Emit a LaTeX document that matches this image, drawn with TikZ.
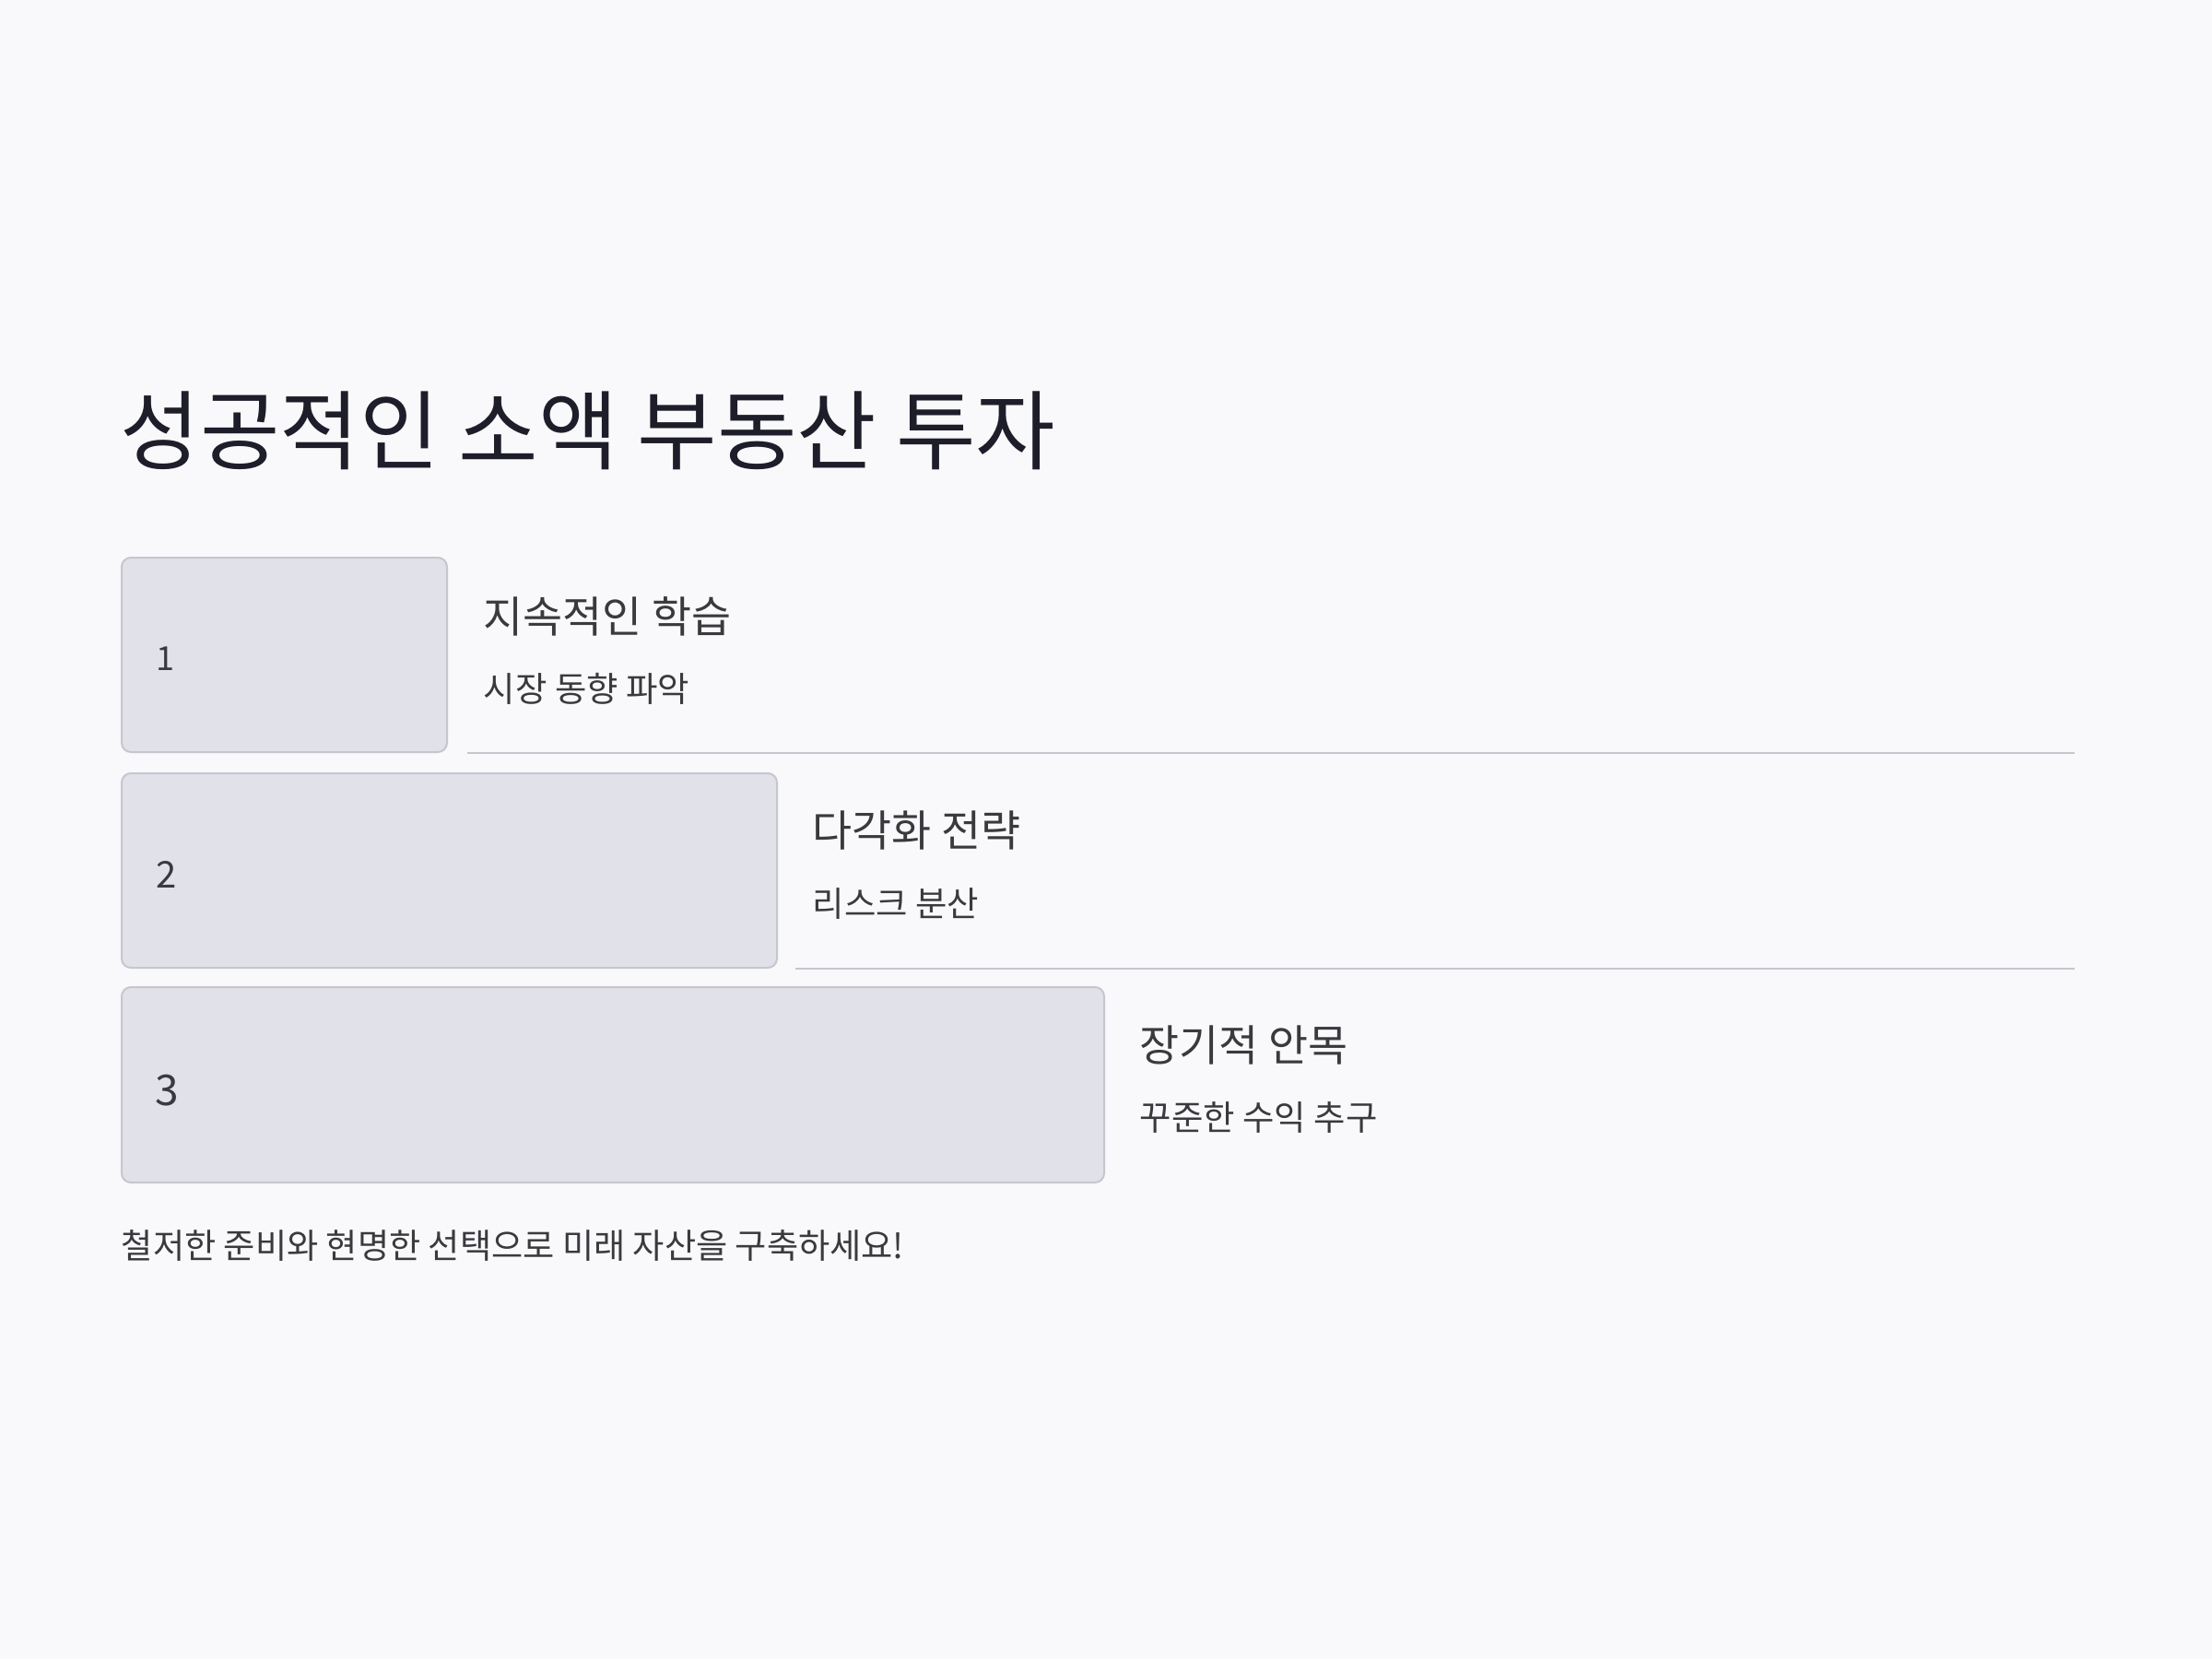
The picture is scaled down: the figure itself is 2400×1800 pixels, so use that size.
\documentclass[tikz,border=0pt]{standalone}
\usepackage{fontspec}
\setmainfont{Noto Sans CJK KR}
\definecolor{bgc}{HTML}{F9F9FB}
\definecolor{titlec}{HTML}{1E1E2A}
\definecolor{textc}{HTML}{3A3A3E}
\definecolor{boxfill}{HTML}{E1E1E9}
\definecolor{boxline}{HTML}{C6C6CE}
\begin{document}
\begin{tikzpicture}[x=0.25pt,y=-0.25pt,
  stepbox/.style={draw=boxline,fill=boxfill,line width=0.5pt,rounded corners=2.5pt},
  sepline/.style={draw=boxline,line width=0.5pt},
  numtxt/.style={anchor=west,inner sep=0pt,text=textc},
  headtxt/.style={anchor=west,inner sep=0pt,text=textc,font=\fontsize{11.7pt}{13pt}\selectfont},
  subtxt/.style={anchor=west,inner sep=0pt,text=textc,font=\fontsize{9.35pt}{11pt}\selectfont}]
\fill[bgc] (0,0) rectangle (2400,1800);
\useasboundingbox (0,0) rectangle (2400,1800);
\node[anchor=west,inner sep=0pt,text=titlec,font=\fontsize{23.5pt}{26pt}\selectfont] (title) at (130,467) {성공적인 소액 부동산 투자};
% boxes
\path[stepbox] (132,605) rectangle (485,816);
\path[stepbox] (132,839) rectangle (843,1050);
\path[stepbox] (132,1071) rectangle (1198,1283);
\coordinate (l1a) at (507,817); \coordinate (l1b) at (2251,817);
\coordinate (l2a) at (863,1051); \coordinate (l2b) at (2251,1051);
\draw[sepline] (l1a) -- (l1b);
\draw[sepline] (l2a) -- (l2b);
\node[numtxt,font=\fontsize{9pt}{10pt}\selectfont] (n1) at (169,715) {1};
\node[numtxt,font=\fontsize{10pt}{11pt}\selectfont] (n2) at (169,949) {2};
\node[numtxt,font=\fontsize{11.5pt}{13pt}\selectfont] (n3) at (168,1183) {3};
\node[headtxt] (h1) at (524,669) {지속적인 학습};
\node[subtxt] (s1) at (524,747) {시장 동향 파악};
\node[headtxt] (h2) at (881,901) {다각화 전략};
\node[subtxt] (s2) at (881,980) {리스크 분산};
\node[headtxt] (h3) at (1236,1134) {장기적 안목};
\node[subtxt] (s3) at (1236,1212) {꾸준한 수익 추구};
\node[anchor=west,inner sep=0pt,text=textc,font=\fontsize{9.3pt}{11pt}\selectfont] (foot) at (131,1351) {철저한 준비와 현명한 선택으로 미래 자산을 구축하세요!};
\end{tikzpicture}
\end{document}
